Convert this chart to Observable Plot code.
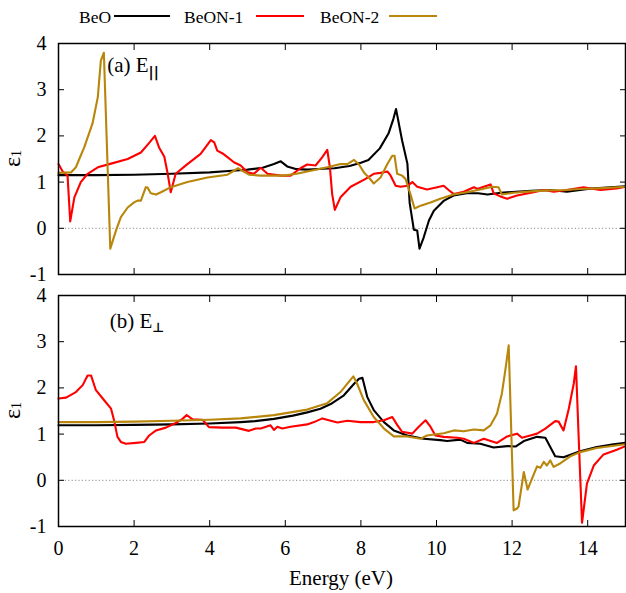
<!DOCTYPE html>
<html><head><meta charset="utf-8">
<script src="https://cdn.jsdelivr.net/npm/d3@7"></script>
<script src="https://cdn.jsdelivr.net/npm/@observablehq/plot@0.6"></script>
<style>
html,body{margin:0;padding:0;background:#fff;}
#wrap{position:relative;width:626px;height:593px;overflow:hidden;font-family:'Liberation Serif','Times New Roman',serif;}
#wrap svg{position:absolute;left:0;}
</style></head>
<body><div id="wrap"></div>
<script>
// ---------- categories / ticks ----------
const seriesNames = ["BeO", "BeON-1", "BeON-2"];
const seriesColors = ["#000000", "#ff0000", "#b8860b"];
const xTicks = [0, 2, 4, 6, 8, 10, 12, 14];
const yTicks = [-1, 0, 1, 2, 3, 4];

// ---------- panel (a) E parallel ----------
const eBeO_a = [0, 1, 2, 3, 4, 4.5, 5, 5.4, 5.7, 5.88, 6.05, 6.3, 6.6, 7.0, 7.3, 7.7, 8.0, 8.2, 8.5, 8.73, 8.86, 8.93, 9.09, 9.23, 9.29, 9.4, 9.49, 9.55, 9.66, 9.8, 9.93, 10.2, 10.45, 10.8, 11.1, 11.35, 11.7, 12.1, 12.5, 13.0, 13.45, 13.8, 14.1, 14.5, 15];
const epsBeO_a = [1.15, 1.15, 1.16, 1.18, 1.21, 1.24, 1.27, 1.31, 1.39, 1.45, 1.34, 1.28, 1.27, 1.29, 1.3, 1.35, 1.42, 1.48, 1.73, 2.05, 2.37, 2.58, 1.9, 1.4, 0.55, -0.03, -0.05, -0.44, -0.2, 0.17, 0.38, 0.6, 0.71, 0.76, 0.76, 0.73, 0.77, 0.79, 0.81, 0.83, 0.79, 0.83, 0.86, 0.88, 0.91];

const eBeON1_a = [0, 0.11, 0.24, 0.31, 0.42, 0.59, 0.77, 1.04, 1.39, 1.83, 2.18, 2.4, 2.55, 2.66, 2.8, 2.88, 2.97, 3.1, 3.41, 3.76, 4.03, 4.12, 4.2, 4.34, 4.47, 4.64, 4.82, 5.0, 5.17, 5.35, 5.53, 5.88, 6.14, 6.4, 6.58, 6.8, 6.98, 7.11, 7.18, 7.24, 7.31, 7.46, 7.73, 8.1, 8.34, 8.52, 8.7, 8.78, 8.92, 9.05, 9.23, 9.36, 9.49, 9.75, 10.02, 10.19, 10.32, 10.46, 10.72, 10.99, 11.08, 11.21, 11.43, 11.51, 11.69, 11.87, 12.13, 12.57, 12.84, 13.1, 13.45, 13.89, 14.33, 14.77, 15];
const epsBeON1_a = [1.39, 1.23, 1.14, 0.15, 0.67, 1.0, 1.18, 1.32, 1.4, 1.5, 1.64, 1.85, 2.0, 1.75, 1.55, 1.22, 0.78, 1.18, 1.39, 1.61, 1.91, 1.86, 1.68, 1.62, 1.54, 1.43, 1.36, 1.21, 1.18, 1.31, 1.18, 1.14, 1.14, 1.3, 1.38, 1.36, 1.54, 1.7, 1.32, 0.74, 0.4, 0.67, 0.9, 1.06, 1.18, 1.2, 1.23, 1.15, 0.92, 0.9, 0.92, 1.0, 0.9, 0.84, 0.89, 0.92, 0.83, 0.74, 0.79, 0.89, 0.85, 0.89, 0.95, 0.76, 0.69, 0.64, 0.71, 0.78, 0.83, 0.79, 0.83, 0.89, 0.83, 0.86, 0.9];

const eBeON2_a = [0, 0.33, 0.46, 0.55, 0.68, 0.9, 1.04, 1.12, 1.2, 1.37, 1.52, 1.65, 1.83, 2.0, 2.09, 2.18, 2.31, 2.36, 2.44, 2.58, 2.71, 2.97, 3.41, 3.94, 4.47, 4.75, 5.04, 5.35, 5.96, 6.3, 6.58, 7.11, 7.46, 7.64, 7.82, 7.95, 8.08, 8.21, 8.34, 8.52, 8.7, 8.83, 8.89, 8.96, 9.09, 9.18, 9.31, 9.42, 9.58, 9.84, 10.1, 10.45, 10.8, 11.16, 11.47, 11.64, 11.73, 12.04, 12.5, 12.92, 13.4, 13.8, 14.4, 15];
const epsBeON2_a = [1.2, 1.21, 1.32, 1.5, 1.75, 2.27, 2.84, 3.63, 3.8, -0.44, -0.05, 0.24, 0.45, 0.56, 0.6, 0.6, 0.89, 0.88, 0.76, 0.73, 0.78, 0.89, 1.0, 1.1, 1.16, 1.3, 1.16, 1.14, 1.14, 1.18, 1.23, 1.32, 1.39, 1.39, 1.48, 1.38, 1.21, 1.1, 0.97, 1.1, 1.39, 1.57, 1.57, 1.18, 1.14, 1.07, 0.74, 0.43, 0.49, 0.56, 0.64, 0.73, 0.78, 0.84, 0.9, 0.89, 0.73, 0.77, 0.8, 0.82, 0.83, 0.85, 0.87, 0.9];

// ---------- panel (b) E perpendicular ----------
const eBeO_b = [0, 1, 2, 3, 4, 4.82, 5.2, 5.7, 6.2, 6.58, 6.93, 7.2, 7.55, 7.82, 7.95, 8.04, 8.17, 8.34, 8.61, 8.87, 9.23, 9.66, 10.1, 10.28, 10.63, 10.81, 11.16, 11.51, 11.87, 12.09, 12.31, 12.66, 12.88, 13.01, 13.14, 13.36, 13.8, 14.24, 14.68, 15];
const epsBeO_b = [1.19, 1.19, 1.2, 1.21, 1.23, 1.26, 1.28, 1.33, 1.4, 1.47, 1.55, 1.65, 1.84, 2.09, 2.2, 2.22, 1.8, 1.52, 1.26, 1.08, 0.97, 0.9, 0.87, 0.85, 0.88, 0.81, 0.79, 0.71, 0.74, 0.73, 0.85, 0.94, 0.92, 0.72, 0.52, 0.5, 0.63, 0.72, 0.78, 0.81];

const eBeON1_b = [0, 0.2, 0.46, 0.64, 0.77, 0.86, 0.99, 1.17, 1.39, 1.47, 1.56, 1.65, 1.78, 2.05, 2.27, 2.4, 2.58, 2.84, 3.1, 3.28, 3.39, 3.55, 3.81, 3.98, 4.34, 4.69, 5.04, 5.22, 5.35, 5.61, 5.7, 5.79, 5.92, 6.14, 6.58, 6.76, 6.98, 7.2, 7.38, 7.64, 7.99, 8.34, 8.61, 8.83, 8.96, 9.09, 9.36, 9.53, 9.71, 9.84, 9.97, 10.19, 10.55, 10.72, 10.99, 11.25, 11.6, 11.87, 12.13, 12.26, 12.48, 12.66, 12.88, 13.14, 13.23, 13.36, 13.5, 13.63, 13.69, 13.76, 13.85, 13.98, 14.16, 14.42, 14.77, 15];
const epsBeON1_b = [1.77, 1.79, 1.91, 2.06, 2.27, 2.27, 1.95, 1.77, 1.55, 1.3, 0.94, 0.83, 0.79, 0.81, 0.83, 0.97, 1.08, 1.14, 1.24, 1.33, 1.41, 1.32, 1.31, 1.15, 1.14, 1.14, 1.07, 1.12, 1.12, 1.19, 1.09, 1.16, 1.12, 1.16, 1.21, 1.26, 1.34, 1.29, 1.25, 1.29, 1.26, 1.26, 1.3, 1.37, 1.2, 1.05, 1.01, 1.16, 1.3, 1.16, 0.97, 0.94, 0.92, 0.9, 0.81, 0.9, 0.81, 0.95, 1.01, 0.92, 0.97, 1.01, 1.12, 1.28, 1.27, 1.08, 1.55, 2.09, 2.47, 0.95, -0.92, -0.07, 0.32, 0.56, 0.66, 0.74];

const eBeON2_b = [0, 1, 2, 3, 4, 4.82, 5.7, 6.58, 7.11, 7.46, 7.68, 7.8, 7.9, 8.08, 8.34, 8.61, 8.87, 9.23, 9.58, 9.75, 10.19, 10.46, 10.72, 10.99, 11.25, 11.43, 11.6, 11.73, 11.82, 11.91, 12.04, 12.13, 12.17, 12.31, 12.41, 12.53, 12.66, 12.75, 12.84, 12.92, 13.01, 13.1, 13.28, 13.54, 13.8, 14.24, 15];
const epsBeON2_b = [1.26, 1.26, 1.27, 1.29, 1.31, 1.34, 1.41, 1.53, 1.67, 1.91, 2.13, 2.25, 2.09, 1.73, 1.37, 1.12, 0.95, 0.95, 0.9, 0.97, 1.02, 1.08, 1.06, 1.1, 1.08, 1.19, 1.44, 1.88, 2.38, 2.92, -0.65, -0.61, -0.57, 0.18, -0.2, 0.04, 0.3, 0.27, 0.4, 0.32, 0.43, 0.29, 0.37, 0.52, 0.61, 0.7, 0.78];

// ---------- build tables ----------
function rows(es, vs, s) { return es.map((e, i) => ({E: e, eps: vs[i], s})); }
const dataA = [
  ...rows(eBeO_a, epsBeO_a, "BeO"),
  ...rows(eBeON1_a, epsBeON1_a, "BeON-1"),
  ...rows(eBeON2_a, epsBeON2_a, "BeON-2")
];
const dataB = [
  ...rows(eBeO_b, epsBeO_b, "BeO"),
  ...rows(eBeON1_b, epsBeON1_b, "BeON-1"),
  ...rows(eBeON2_b, epsBeON2_b, "BeON-2")
];

const FONT = "'Liberation Serif', 'Times New Roman', serif";

function panel(data, height, marginTop, marginBottom, showX) {
  return Plot.plot({
    width: 626, height,
    marginLeft: 58, marginRight: 1, marginTop, marginBottom,
    style: {fontFamily: FONT, fontSize: "20px", color: "#000", background: "transparent", overflow: "visible"},
    x: {domain: [0, 15]},
    y: {domain: [-1, 4]},
    color: {domain: seriesNames, range: seriesColors},
    marks: [
      Plot.ruleY([0], {stroke: "#8a8a8a", strokeWidth: 1, strokeDasharray: "1.2,2.2"}),
      Plot.line(data, {x: "E", y: "eps", z: "s", stroke: "s", strokeWidth: 2.1, curve: "linear"}),
      Plot.axisX({ticks: xTicks, anchor: "bottom", tickSize: -6, tickFormat: () => "", label: null}),
      Plot.axisX({ticks: xTicks, anchor: "top", tickSize: -6, tickFormat: () => "", label: null}),
      showX ? Plot.axisX({ticks: xTicks, anchor: "bottom", tickSize: 0, tickPadding: 14, tickFormat: d => String(d), label: null}) : null,
      Plot.axisY({ticks: yTicks, anchor: "left", tickSize: -6, tickFormat: () => "", label: null}),
      Plot.axisY({ticks: yTicks, anchor: "right", tickSize: -6, tickFormat: () => "", label: null}),
      Plot.axisY({ticks: yTicks, anchor: "left", tickSize: 0, tickPadding: 12, tickFormat: d => String(d), label: null}),
      Plot.frame({stroke: "#000", strokeWidth: 1.5})
    ]
  });
}

const wrap = document.getElementById("wrap");

// legend
const leg = d3.create("svg").attr("width", 626).attr("height", 30).style("top", "0px");
const legItems = [
  {name: seriesNames[0], color: seriesColors[0], tx: 79, lx1: 114, lx2: 170},
  {name: seriesNames[1], color: seriesColors[1], tx: 184, lx1: 256, lx2: 304},
  {name: seriesNames[2], color: seriesColors[2], tx: 320, lx1: 389, lx2: 437}
];
for (const it of legItems) {
  leg.append("text").attr("x", it.tx).attr("y", 23).style("font-family", FONT).style("font-size", "17.5px").attr("fill", "#000").text(it.name);
  leg.append("line").attr("x1", it.lx1).attr("x2", it.lx2).attr("y1", 16).attr("y2", 16).attr("stroke", it.color).attr("stroke-width", 2.2);
}
wrap.appendChild(leg.node());

// panel a
const svgA = panel(dataA, 260, 13, 16, false);
svgA.style.top = "30px";
wrap.appendChild(svgA);
// panel b
const svgB = panel(dataB, 313, 15, 67, true);
svgB.style.top = "280px";
wrap.appendChild(svgB);

function yLabel(svg, cy) {
  const t = d3.select(svg).append("text")
    .attr("transform", `translate(20,${cy}) rotate(-90)`)
    .attr("text-anchor", "middle").style("font-family", FONT).attr("fill", "#000");
  t.append("tspan").style("font-size", "24px").text("ε");
  t.append("tspan").style("font-size", "14px").attr("dy", 1).text("1");
}
function panelLabel(svg, x, y, main, sub, subFont, subSize, subDy) {
  const t = d3.select(svg).append("text").attr("x", x).attr("y", y)
    .style("font-family", FONT).style("font-size", "21px").attr("fill", "#000");
  t.append("tspan").text(main);
  t.append("tspan").style("font-family", subFont).style("font-size", subSize + "px").attr("font-weight", "bold").attr("dy", subDy).text(sub);
}
yLabel(svgA, 128.5);
yLabel(svgB, 130.5);
panelLabel(svgA, 133, 42, "(a) E", "||", "'DejaVu Sans', sans-serif", 14, 5);
panelLabel(svgB, 137, 48, "(b) E", "⊥", "'DejaVu Sans', sans-serif", 13, 4);
d3.select(svgB).append("text").attr("x", 341).attr("y", 305).attr("text-anchor", "middle")
  .style("font-family", FONT).style("font-size", "21px").attr("fill", "#000").text("Energy (eV)");
</script>
</body></html>
